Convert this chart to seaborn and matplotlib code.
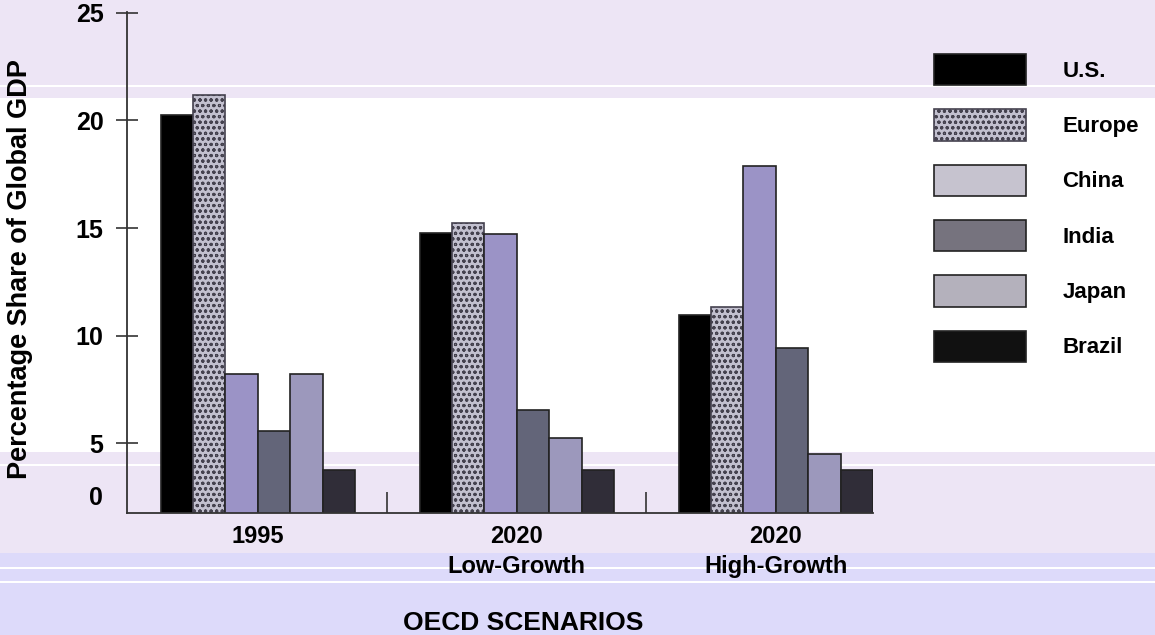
import numpy as np
import pandas as pd
import matplotlib
matplotlib.use("Agg")
import matplotlib.pyplot as plt
from matplotlib.patches import Patch
import seaborn as sns

# values
scenarios = ["1995", "2020\nLow-Growth", "2020\nHigh-Growth"]
regions = ["U.S.", "Europe", "China", "India", "Japan", "Brazil"]
share_1995 = [20.25, 21.18, 8.22, 5.58, 8.22, 3.75]
share_low = [14.78, 15.22, 14.72, 6.54, 5.26, 3.75]
share_high = [10.94, 11.31, 17.88, 9.42, 4.50, 3.75]

bar_colors = ["#000000", "#c2c0cf", "#9b93c6", "#636579", "#9c98bc", "#302d38"]
legend_colors = ["#000000", "#c2c0cf", "#c6c3cf", "#76737e", "#b4b1bc", "#111111"]

df = pd.DataFrame({
    "scenario": np.repeat(scenarios, len(regions)),
    "region": regions * len(scenarios),
    "share": share_1995 + share_low + share_high,
})

sns.set_style("white")
plt.rcParams["font.family"] = ["Liberation Sans", "DejaVu Sans"]
plt.rcParams["font.weight"] = "bold"
plt.rcParams["text.color"] = "black"
plt.rcParams["xtick.labelcolor"] = "black"
plt.rcParams["ytick.labelcolor"] = "black"
plt.rcParams["hatch.linewidth"] = 0.8

fig = plt.figure(figsize=(11.55, 6.35), dpi=100)

# banded background (pixel rows of the reference)
bg = fig.add_axes([0, 0, 1, 1], zorder=-1)
bg.set_xlim(0, 1)
bg.set_ylim(635, 0)
bg.axis("off")
lav, blue = "#ede5f5", "#dddafa"
bg.axhspan(0, 98, color=lav, lw=0)
bg.axhspan(85, 87, color="white", lw=0)
bg.axhspan(452, 553, color=lav, lw=0)
bg.axhspan(464, 466, color="white", lw=0)
bg.axhspan(553, 635, color=blue, lw=0)
bg.axhspan(567, 569, color="white", lw=0)
bg.axhspan(581, 583, color="white", lw=0)

ax = fig.add_axes([127 / 1155, 1 - 512.7 / 635, 746 / 1155, 500.7 / 635])
ax.set_facecolor("none")

sns.barplot(data=df, x="scenario", y="share", hue="region", order=scenarios,
            hue_order=regions, palette=dict(zip(regions, bar_colors)),
            width=0.75, edgecolor="#222222", linewidth=1.2, saturation=1,
            ax=ax, legend=False)

# mottled fill for Europe
for p in ax.containers[1]:
    p.set_hatch("ooo")
    p.set_edgecolor("#45424f")

ax.set_xlim(-0.505, 2.375)
ax.set_ylim(1.77, 25.04)
ax.set_xlabel("")
ax.set_ylabel("")

ax.set_yticks([5, 10, 15, 20, 25])
ax.tick_params(axis="y", direction="inout", length=16, width=1.2, color="#333333",
               pad=9, labelsize=18, left=True)
ax.set_xticks([0, 1, 2])
ax.set_xticklabels(scenarios, fontsize=17, fontweight="bold", linespacing=1.4)
ax.tick_params(axis="x", length=0, pad=9)
ax.set_xticks([0.5, 1.5], minor=True)
ax.tick_params(axis="x", which="minor", direction="in", length=15, width=1.2,
               color="#333333", bottom=True)
for lab in ax.get_yticklabels():
    lab.set_fontweight("bold")

ax.text(-0.032, 2.45, "0", transform=ax.get_yaxis_transform(), ha="right",
        va="center", fontsize=18, fontweight="bold")

sns.despine(ax=ax)
for s in ["left", "bottom"]:
    ax.spines[s].set_color("#333333")
    ax.spines[s].set_linewidth(1.3)

handles = []
for name, c in zip(regions, legend_colors):
    if name == "Europe":
        handles.append(Patch(facecolor=c, edgecolor="#45424f", hatch="ooo", lw=1.2))
    else:
        handles.append(Patch(facecolor=c, edgecolor="#222222", lw=1.2))
fig.legend(handles=handles, labels=regions, loc="upper left",
           bbox_to_anchor=(934 / 1155, 1 - 54 / 635), frameon=False,
           prop={"size": 16, "weight": "bold"}, handlelength=4.14,
           handleheight=1.79, labelspacing=1.08, handletextpad=1.64,
           borderpad=0, borderaxespad=0)

fig.text(20 / 1155, 1 - 269 / 635, "Percentage Share of Global GDP",
         rotation=90, ha="center", va="center", fontsize=19.5, fontweight="bold")
fig.text(523 / 1155, 1 - 623 / 635, "OECD SCENARIOS", ha="center",
         va="center", fontsize=19, fontweight="bold")

fig.savefig("out.png", dpi=100)
